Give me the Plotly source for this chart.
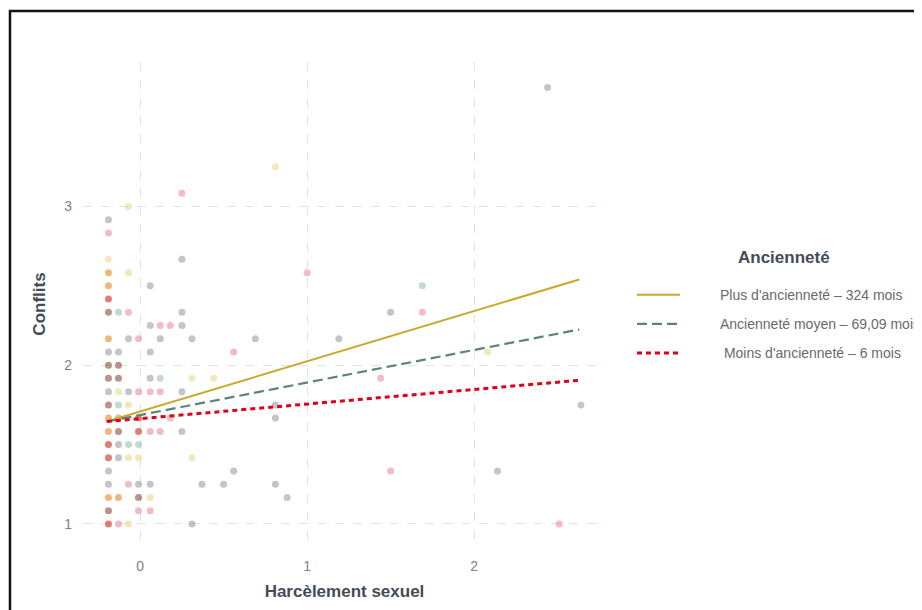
import plotly.graph_objects as go

# ---------------- data ----------------
harcelement = [
    -0.19, -0.19, -0.19, -0.19, -0.19, -0.19, -0.19, -0.19, -0.19, -0.19, -0.19, -0.19, -0.19,
    -0.19, -0.19, -0.19, -0.19, -0.19, -0.19, -0.19, -0.19, -0.19,
    -0.13, -0.13, -0.13, -0.13, -0.13, -0.13, -0.13, -0.13, -0.13, -0.13, -0.13, -0.13,
    -0.07, -0.07, -0.07, -0.07, -0.07, -0.07, -0.07, -0.07, -0.07, -0.07,
    -0.01, -0.01, -0.01, -0.01, -0.01, -0.01, -0.01, -0.01, -0.01,
    0.06, 0.06, 0.06, 0.06, 0.06, 0.06, 0.06, 0.06, 0.06,
    0.12, 0.12, 0.12, 0.12, 0.12,
    0.18, 0.18,
    0.25, 0.25, 0.25, 0.25, 0.25, 0.25,
    0.31, 0.31, 0.31, 0.31,
    0.37, 0.44, 0.5, 0.56, 0.56, 0.69, 0.81, 0.81, 0.81, 0.81, 0.88,
    1.0, 1.19, 1.44, 1.5, 1.5, 1.69, 1.69, 2.08, 2.14, 2.44, 2.51, 2.64,
]
conflits = [
    1.0, 1.083, 1.167, 1.25, 1.333, 1.417, 1.5, 1.583, 1.667, 1.75, 1.833, 1.917, 2.0,
    2.083, 2.167, 2.333, 2.417, 2.5, 2.583, 2.667, 2.833, 2.917,
    1.0, 1.167, 1.417, 1.5, 1.583, 1.667, 1.75, 1.833, 1.917, 2.0, 2.083, 2.333,
    1.0, 1.25, 1.417, 1.5, 1.75, 1.833, 2.167, 2.333, 2.583, 3.0,
    1.083, 1.167, 1.25, 1.417, 1.5, 1.583, 1.667, 1.833, 2.167,
    1.083, 1.167, 1.25, 1.583, 1.833, 1.917, 2.083, 2.25, 2.5,
    1.583, 1.833, 1.917, 2.167, 2.25,
    1.667, 2.25,
    1.583, 1.833, 2.25, 2.333, 2.667, 3.083,
    1.0, 1.417, 1.917, 2.167,
    1.25, 1.917, 1.25, 1.333, 2.083, 2.167, 1.25, 1.667, 1.75, 3.25, 1.167,
    2.583, 2.167, 1.917, 1.333, 2.333, 2.333, 2.5, 2.083, 1.333, 3.75, 1.0, 1.75,
]
groupe = [
    "r", "b", "o", "g", "g", "r", "r", "o", "o", "b", "g", "b", "b",
    "g", "o", "b", "r", "o", "o", "y", "p", "g",
    "p", "o", "g", "g", "b", "o", "t", "y", "b", "b", "g", "t",
    "y", "p", "y", "t", "y", "g", "g", "p", "y", "y",
    "p", "b", "g", "y", "t", "r", "r", "p", "p",
    "p", "y", "g", "p", "p", "g", "g", "g", "g",
    "p", "p", "t", "g", "p",
    "p", "p",
    "g", "g", "g", "g", "g", "p",
    "g", "y", "y", "g",
    "g", "y", "g", "g", "p", "g", "g", "g", "g", "y", "g",
    "p", "g", "p", "p", "g", "p", "t", "y", "g", "g", "p", "g",
]
couleurs = {
    "r": "rgba(200,40,30,0.6)",
    "o": "rgba(230,135,35,0.6)",
    "b": "rgba(140,75,65,0.6)",
    "g": "rgba(125,125,140,0.45)",
    "t": "rgba(115,180,150,0.45)",
    "p": "rgba(225,105,135,0.45)",
    "y": "rgba(225,205,110,0.45)",
}

# fitted lines (endpoints)
x_ligne = [-0.2, 2.63]
y_plus = [1.645, 2.54]
y_moyen = [1.645, 2.225]
y_moins = [1.645, 1.905]
noms = ["Plus d'ancienneté – 324 mois",
        "Ancienneté moyen – 69,09 mois",
        " Moins d'ancienneté – 6 mois"]
titre_legende = "Ancienneté"
titre_x = "Harcèlement sexuel"
titre_y = "Conflits"
ticks_x = [0, 1, 2]
ticks_y = [1, 2, 3]

# ---------------- figure ----------------
pad = "\u00a0" * 9
fig = go.Figure()
fig.add_trace(go.Scatter(
    x=harcelement, y=conflits, mode="markers",
    marker=dict(size=7, color=[couleurs[g] for g in groupe], line=dict(width=0)),
    showlegend=False, hoverinfo="skip"))

fig.add_trace(go.Scatter(x=x_ligne, y=y_plus, mode="lines", name=pad + noms[0],
                         legendgroup="a",
                         line=dict(color="#C8A92C", width=2)))
fig.add_trace(go.Scatter(x=x_ligne, y=y_moyen, mode="lines", name=pad + noms[1],
                         legendgroup="b",
                         line=dict(color="#5E8478", width=2.2, dash="10px,5px")))
fig.add_trace(go.Scatter(x=x_ligne, y=y_moins, mode="lines",
                         name=pad + "\u00a0" + noms[2].strip(),
                         legendgroup="c",
                         line=dict(color="#E0001B", width=3, dash="5px,4px")))

font_fam = "Liberation Sans, Arial, sans-serif"
titre_col = "#444b58"
fig.update_layout(
    template="none",
    width=922, height=610,
    margin=dict(l=75, r=324, t=54, b=72, pad=0, autoexpand=False),
    paper_bgcolor="white", plot_bgcolor="white",
    font=dict(family=font_fam, color="#666666"),
    xaxis=dict(range=[-0.3425, 2.79], tickvals=ticks_x,
               showgrid=True, gridcolor="#e2e2e2", griddash="dash", gridwidth=1,
               zeroline=False, showline=False, ticks="", automargin=False,
               ticklabelstandoff=10,
               tickfont=dict(size=14, color="#808080"),
               title=dict(text="<b>" + titre_x + "</b>",
                          font=dict(size=17, color=titre_col), standoff=12)),
    yaxis=dict(range=[0.861, 3.91], tickvals=ticks_y,
               showgrid=True, gridcolor="#e2e2e2", griddash="dash", gridwidth=1,
               zeroline=False, showline=False, ticks="", automargin=False,
               ticklabelstandoff=10,
               tickfont=dict(size=14, color="#808080"),
               title=dict(text="<b>" + titre_y + "</b>",
                          font=dict(size=17, color=titre_col), standoff=14)),
    showlegend=True,
    legend=dict(x=1.0497, y=0.5516, xanchor="left", yanchor="top",
                font=dict(size=14, color="#6a6a6a"),
                tracegroupgap=8, itemwidth=43, bgcolor="rgba(0,0,0,0)",
                borderwidth=0),
    annotations=[dict(text="<b>" + titre_legende + "</b>", xref="paper", yref="paper",
                      x=1.340, y=0.597, xanchor="center", yanchor="middle",
                      showarrow=False, font=dict(size=17, color=titre_col))],
    shapes=[dict(type="rect", xref="paper", yref="paper",
                 x0=-0.1396, x1=1.8, y0=-0.3, y1=1.1054,
                 line=dict(color="#111111", width=2.5), fillcolor="rgba(0,0,0,0)",
                 layer="above")],
)

fig.write_html("out.html")
